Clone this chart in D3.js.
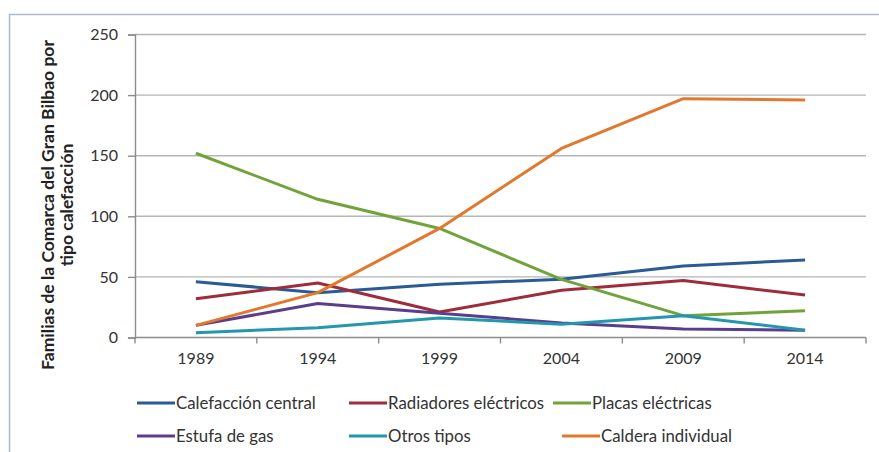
<!DOCTYPE html>
<html>
<head>
<meta charset="utf-8">
<script src="https://cdn.jsdelivr.net/npm/d3@7"></script>
<style>
  html, body { margin: 0; padding: 0; background: #fff; }
  svg { display: block; }
</style>
</head>
<body>
<svg id="chart" width="879" height="452"></svg>
<script>
// Survey years (category axis)
const years = ["1989", "1994", "1999", "2004", "2009", "2014"];

// Families per heating type
const calefaccionCentral  = [46, 37, 44, 48, 59, 64];
const radiadoresElectricos = [32, 45, 21, 39, 47, 35];
const placasElectricas    = [152, 114, 90, 48, 18, 22];
const estufaGas           = [10, 28, 20, 12, 7, 6];
const otrosTipos          = [4, 8, 16, 11, 18, 6];
const calderaIndividual   = [10, 37, 90, 156, 197, 196];

const yTicks = [0, 50, 100, 150, 200, 250];

const seriesNames = ["Calefacción central", "Radiadores eléctricos", "Placas eléctricas",
                     "Estufa de gas", "Otros tipos", "Caldera individual"];
const seriesValues = [calefaccionCentral, radiadoresElectricos, placasElectricas,
                      estufaGas, otrosTipos, calderaIndividual];
const seriesColors = ["#2a5b95", "#9e2c3b", "#70a33a", "#5a3e8b", "#2297ae", "#e2782d"];

const svg = d3.select("#chart");
const font = "Lato, 'Open Sans', sans-serif";

// outer frame (only top and left edges fall inside the view)
svg.append("path")
  .attr("d", "M9.5,452 V14.5 H879")
  .attr("fill", "none")
  .attr("stroke", "#a9bdcc")
  .attr("stroke-width", 1.5);

const plot = { left: 135, right: 866, top: 34.5, bottom: 337.5 };

const x = d3.scaleBand().domain(years).range([plot.left, plot.right]);
const y = d3.scaleLinear().domain([0, 250]).range([plot.bottom, plot.top]);

// horizontal gridlines
svg.append("g")
  .selectAll("line")
  .data(yTicks.filter(d => d > 0))
  .join("line")
  .attr("x1", plot.left).attr("x2", plot.right)
  .attr("y1", d => y(d)).attr("y2", d => y(d))
  .attr("stroke", "#b5b5b5").attr("stroke-width", 1.4);

// y axis
const yAxis = svg.append("g")
  .attr("transform", `translate(${plot.left},0)`)
  .call(d3.axisLeft(y).tickValues(yTicks).tickSize(7).tickPadding(10));
yAxis.select(".domain").attr("stroke", "#8c8c8c").attr("stroke-width", 1.4);
yAxis.selectAll(".tick line").attr("stroke", "#8c8c8c").attr("stroke-width", 1.4);
yAxis.selectAll("text")
  .attr("font-family", font).attr("font-size", 16).attr("fill", "#333");

// x axis: tick marks at category boundaries, labels at band centers
const xAxisG = svg.append("g").attr("transform", `translate(0,${plot.bottom})`);
xAxisG.append("line")
  .attr("x1", plot.left).attr("x2", plot.right)
  .attr("stroke", "#8c8c8c").attr("stroke-width", 1.4);
const bounds = years.map(d => x(d)).concat([x(years[years.length - 1]) + x.bandwidth()]);
xAxisG.selectAll(".bt")
  .data(bounds)
  .join("line")
  .attr("class", "bt")
  .attr("x1", d => d).attr("x2", d => d)
  .attr("y1", 0).attr("y2", 6)
  .attr("stroke", "#8c8c8c").attr("stroke-width", 1.4);
xAxisG.selectAll(".lbl")
  .data(years)
  .join("text")
  .attr("class", "lbl")
  .attr("x", d => x(d) + x.bandwidth() / 2)
  .attr("y", 26)
  .attr("text-anchor", "middle")
  .attr("font-family", font).attr("font-size", 16).attr("fill", "#333")
  .text(d => d);

// y axis title (two lines, rotated)
const title = svg.append("text")
  .attr("transform", `translate(0,205) rotate(-90)`)
  .attr("text-anchor", "middle")
  .attr("font-family", font).attr("font-size", 17.5).attr("font-weight", "bold")
  .attr("fill", "#222");
title.append("tspan").attr("x", 0).attr("y", 54).text("Familias de la Comarca del Gran Bilbao por");
title.append("tspan").attr("x", 0).attr("y", 73).text("tipo calefacción");

// series lines
const line = d3.line()
  .x((d, i) => x(years[i]) + x.bandwidth() / 2)
  .y(d => y(d));

svg.append("g")
  .selectAll("path")
  .data(seriesValues)
  .join("path")
  .attr("d", d => line(d))
  .attr("fill", "none")
  .attr("stroke", (d, i) => seriesColors[i])
  .attr("stroke-width", 3)
  .attr("stroke-linejoin", "round");

// legend
const legendPos = [
  { x: 137, y: 403 }, { x: 349, y: 403 }, { x: 553, y: 403 },
  { x: 137, y: 436 }, { x: 349, y: 436 }, { x: 562, y: 436 }
];
const legend = svg.append("g")
  .selectAll("g")
  .data(seriesNames)
  .join("g")
  .attr("transform", (d, i) => `translate(${legendPos[i].x},${legendPos[i].y})`);
legend.append("line")
  .attr("x1", 0).attr("x2", 38)
  .attr("stroke", (d, i) => seriesColors[i])
  .attr("stroke-width", 3);
legend.append("text")
  .attr("x", 39).attr("y", 0)
  .attr("dy", "0.35em")
  .attr("font-family", font).attr("font-size", 16.8).attr("fill", "#333")
  .text(d => d);
</script>
</body>
</html>
